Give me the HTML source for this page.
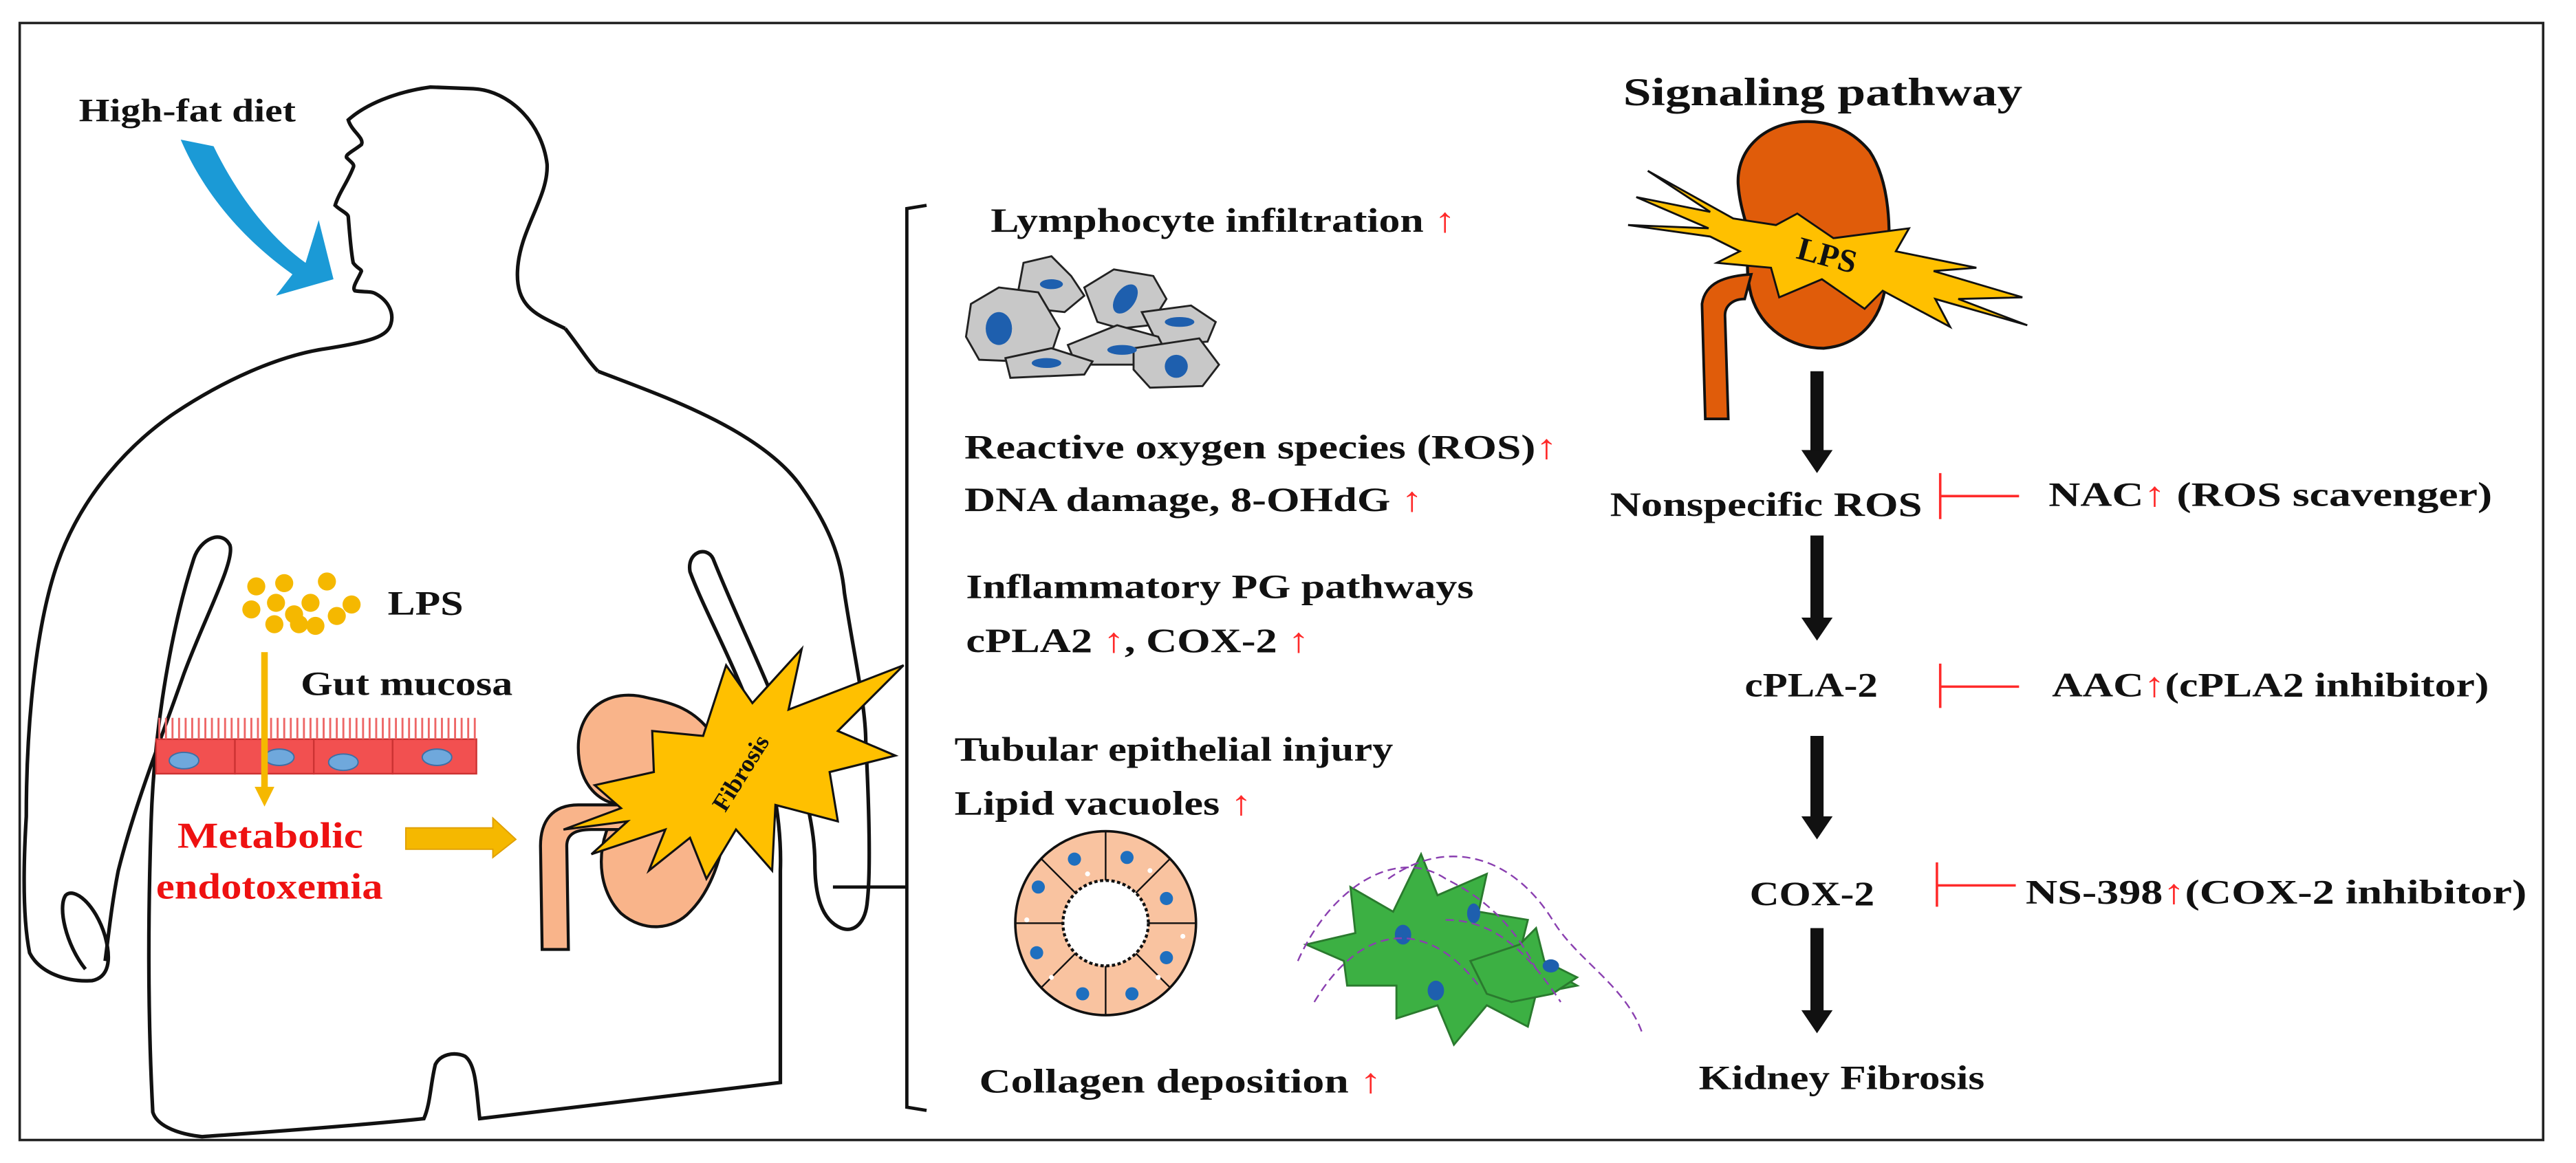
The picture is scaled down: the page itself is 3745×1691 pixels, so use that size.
<!DOCTYPE html>
<html><head><meta charset="utf-8"><style>
html,body{margin:0;padding:0;background:#fff;}
svg{display:block;}
text{font-family:"Liberation Serif",serif;font-weight:bold;fill:#111;}
.r{fill:#ff2a2a;font-weight:normal;}
</style></head><body>
<svg width="3745" height="1691" viewBox="0 0 1568 708" preserveAspectRatio="none" xmlns="http://www.w3.org/2000/svg">
<rect x="0" y="0" width="1568" height="708" fill="#fff"/>
<rect x="12" y="14" width="1536" height="680" fill="none" stroke="#222" stroke-width="1.5"/>

<!-- body outline -->
<g fill="none" stroke="#111" stroke-width="2.2">
<path d="M344,200 C328,192 314,188 315,165 C316,140 334,120 333,100 C330,75 310,55 288,54 L262,53 C240,56 222,64 212,73 C214,80 222,84 220,88 C215,92 210,94 211,96 C214,99 216,100 215,102 C212,110 206,118 204,125 C207,128 212,130 212,132 C213,145 214,155 215,160 C217,163 220,164 220,165 C218,170 214,175 216,177 C222,178 226,177 229,179 C236,183 240,190 238,197 C236,205 225,208 200,212 C170,216 135,232 104,253 C80,270 50,300 35,343 C22,380 16,440 16,497 C14,530 14,560 18,580 C24,592 40,598 56,597 C66,595 68,585 64,570 C58,550 45,540 40,545 C35,552 40,575 52,590"/>
<path d="M364,226 C400,240 460,260 486,294 C505,320 512,340 514,361 C520,400 527,430 527,452 C529,490 530,530 528,548 C527,562 520,568 512,565 C500,560 496,545 496,525 C496,505 490,480 480,450 C468,415 450,380 434,340 C430,332 418,336 420,348 C428,370 445,400 460,440 C470,470 476,500 475,530 L475,659 L292,681 C290,665 290,648 283,643 C276,640 268,642 265,648 C262,660 262,672 258,681 C210,686 150,690 123,692 C105,690 95,684 93,677 C90,620 90,560 92,500 C94,440 105,380 118,340 C122,328 135,322 140,332 C143,342 125,375 112,410 C98,450 82,490 72,530 C68,550 66,570 64,585"/>
<path d="M344,200 C352,210 358,220 364,226"/>
</g>

<text x="48" y="74" font-size="20" textLength="132" lengthAdjust="spacingAndGlyphs">High-fat diet</text>
<!-- blue arrow -->
<path d="M110,85 L130,89 C145,120 165,145 186,160 L194,134 L203,170 L168,180 L178,167 C150,147 125,120 110,85 Z" fill="#1b9ad6"/>

<!-- LPS dots -->
<g fill="#f5b800">
<circle cx="156" cy="357" r="5.5"/><circle cx="173" cy="355" r="5.5"/><circle cx="199" cy="354" r="5.5"/>
<circle cx="168" cy="367" r="5.5"/><circle cx="189" cy="367" r="5.5"/><circle cx="214" cy="368" r="5.5"/>
<circle cx="153" cy="371" r="5.5"/><circle cx="179" cy="374" r="5.5"/><circle cx="205" cy="375" r="5.5"/>
<circle cx="167" cy="380" r="5.5"/><circle cx="182" cy="380" r="5.5"/><circle cx="192" cy="381" r="5.5"/>
</g>
<text x="236" y="374" font-size="21" textLength="46" lengthAdjust="spacingAndGlyphs">LPS</text>
<text x="183" y="423" font-size="21" textLength="129" lengthAdjust="spacingAndGlyphs">Gut  mucosa</text>
<!-- mucosa cells -->
<g stroke="#c33" stroke-width="1">
<rect x="95" y="450" width="48" height="21" fill="#f25050"/><rect x="143" y="450" width="48" height="21" fill="#f25050"/><rect x="191" y="450" width="48" height="21" fill="#f25050"/><rect x="239" y="450" width="51" height="21" fill="#f25050"/>
</g>
<g stroke="#e66" stroke-width="1.2">
<path d="M97,437 V450 M101,437 V450 M105,437 V450 M109,437 V450 M113,437 V450 M117,437 V450 M121,437 V450 M125,437 V450 M129,437 V450 M133,437 V450 M137,437 V450 M141,437 V450 M145,437 V450 M149,437 V450 M153,437 V450 M157,437 V450 M165,437 V450 M169,437 V450 M173,437 V450 M177,437 V450 M181,437 V450 M185,437 V450 M189,437 V450 M193,437 V450 M197,437 V450 M201,437 V450 M205,437 V450 M209,437 V450 M213,437 V450 M217,437 V450 M221,437 V450 M225,437 V450 M229,437 V450 M233,437 V450 M237,437 V450 M241,437 V450 M245,437 V450 M249,437 V450 M253,437 V450 M257,437 V450 M261,437 V450 M265,437 V450 M269,437 V450 M273,437 V450 M277,437 V450 M281,437 V450 M285,437 V450 M289,437 V450"/>
</g>
<g fill="#6fa8dc" stroke="#3d6fa5" stroke-width="0.8">
<ellipse cx="112" cy="463" rx="9" ry="5"/><ellipse cx="170" cy="461" rx="9" ry="5"/><ellipse cx="209" cy="464" rx="9" ry="5"/><ellipse cx="266" cy="461" rx="9" ry="5"/></g>
<!-- orange vertical arrow -->
<rect x="159" y="397" width="4" height="84" fill="#f5b800"/>
<path d="M155,479 L167,479 L161,491 Z" fill="#f5b800"/>
<text x="108" y="516" font-size="22" textLength="113" lengthAdjust="spacingAndGlyphs" style="fill:#ee1111">Metabolic</text>
<text x="95" y="547" font-size="22" textLength="138" lengthAdjust="spacingAndGlyphs" style="fill:#ee1111">endotoxemia</text>
<!-- orange right arrow -->
<path d="M247,504 L300,504 L300,498 L314,511 L300,522 L300,517 L247,517 Z" fill="#f5b800" stroke="#e0a000" stroke-width="0.8"/>

<!-- left kidney -->
<path d="M395,425 C370,418 352,432 352,455 C352,475 362,488 378,490 C362,510 362,540 378,556 C392,568 410,566 420,555 C445,530 450,470 432,445 C422,432 410,428 395,425 Z" fill="#f9b48a" stroke="#111" stroke-width="1.8"/>
<path d="M385,490 L352,490 C336,490 329,500 329,515 L330,578 L346,578 L345,515 C345,508 350,505 360,505 L385,505 Z" fill="#f9b48a" stroke="#111" stroke-width="1.8"/>
<!-- fibrosis star -->
<path d="M343,505 L378,492 L362,478 L398,470 L397,445 L428,448 L442,405 L458,428 L488,395 L480,432 L550,405 L510,445 L545,460 L505,470 L510,500 L472,490 L470,530 L448,505 L430,535 L420,510 L395,530 L405,505 L360,520 L382,500 Z" fill="#ffc000" stroke="#111" stroke-width="1.3"/>
<text x="450" y="476" font-size="15" transform="rotate(-58 450 470)" text-anchor="middle">Fibrosis</text>

<!-- bracket -->
<path d="M564,125 L552,127 L552,674 L564,676 M552,540 L507,540" fill="none" stroke="#111" stroke-width="2"/>

<text x="603" y="141" font-size="21" textLength="283" lengthAdjust="spacingAndGlyphs">Lymphocyte  infiltration  <tspan class="r">↑</tspan></text>
<!-- lymphocyte cells -->
<g stroke="#222" stroke-width="1.2" fill="#c8c8c8">
<path d="M623,160 L640,156 L652,168 L660,180 L648,190 L630,188 L620,176 Z"/>
<path d="M591,185 L608,175 L632,178 L645,200 L640,215 L620,220 L596,219 L588,205 Z"/>
<path d="M660,175 L678,164 L702,168 L710,182 L700,198 L682,200 L668,196 Z"/>
<path d="M695,190 L725,186 L740,196 L735,208 L705,210 Z"/>
<path d="M650,210 L680,198 L705,205 L710,215 L690,222 L655,222 Z"/>
<path d="M612,218 L640,212 L665,220 L660,228 L615,230 Z"/>
<path d="M690,212 L730,206 L742,222 L732,235 L700,236 L690,225 Z"/>
</g>
<g fill="#1e5fae"><ellipse cx="608" cy="200" rx="8" ry="10"/><ellipse cx="685" cy="182" rx="6" ry="10" transform="rotate(35 685 182)"/><ellipse cx="640" cy="173" rx="7" ry="3"/><ellipse cx="718" cy="196" rx="9" ry="3"/><ellipse cx="683" cy="213" rx="9" ry="3"/><ellipse cx="637" cy="221" rx="9" ry="3"/><ellipse cx="716" cy="223" rx="7" ry="7"/></g>

<text x="587" y="279" font-size="21" textLength="361" lengthAdjust="spacingAndGlyphs">Reactive oxygen species (ROS)<tspan class="r">↑</tspan></text>
<text x="587" y="311" font-size="21" textLength="279" lengthAdjust="spacingAndGlyphs">DNA damage, 8-OHdG <tspan class="r">↑</tspan></text>
<text x="588" y="364" font-size="21" textLength="309" lengthAdjust="spacingAndGlyphs">Inflammatory  PG pathways</text>
<text x="588" y="397" font-size="21" textLength="209" lengthAdjust="spacingAndGlyphs">cPLA2 <tspan class="r">↑</tspan>, COX-2 <tspan class="r">↑</tspan></text>
<text x="581" y="463" font-size="21" textLength="267" lengthAdjust="spacingAndGlyphs">Tubular  epithelial  injury</text>
<text x="581" y="496" font-size="21" textLength="181" lengthAdjust="spacingAndGlyphs">Lipid  vacuoles <tspan class="r">↑</tspan></text>

<!-- tubule -->
<ellipse cx="673" cy="562" rx="55" ry="56" fill="#f9c3a0" stroke="#111" stroke-width="1.5"/>
<path d="M673,506 V618 M618,562 H728 M634,523 L712,601 M712,523 L634,601" stroke="#111" stroke-width="1"/>
<circle cx="673" cy="562" r="26" fill="#fff" stroke="#111" stroke-width="1.8" stroke-dasharray="2 1.5"/>
<g fill="#1e6fbf"><circle cx="654" cy="523" r="4"/><circle cx="686" cy="522" r="4"/><circle cx="710" cy="547" r="4"/><circle cx="632" cy="540" r="4"/><circle cx="631" cy="580" r="4"/><circle cx="710" cy="583" r="4"/><circle cx="659" cy="605" r="4"/><circle cx="689" cy="605" r="4"/></g>
<g fill="#fff"><circle cx="662" cy="532" r="1.5"/><circle cx="700" cy="530" r="1.5"/><circle cx="640" cy="595" r="1.5"/><circle cx="705" cy="595" r="1.5"/><circle cx="720" cy="570" r="1.5"/><circle cx="625" cy="560" r="1.5"/></g>

<!-- green cells -->
<path d="M795,575 L825,568 L822,540 L848,555 L865,520 L875,545 L905,532 L900,555 L930,560 L925,580 L960,600 L935,605 L930,625 L905,612 L885,636 L875,612 L850,620 L850,600 L820,600 L818,585 Z" fill="#3cb043" stroke="#2a7a2e" stroke-width="1.2"/>
<path d="M895,585 L925,575 L935,565 L940,585 L960,595 L945,605 L920,610 L905,605 Z" fill="#3cb043" stroke="#2a7a2e" stroke-width="1.2"/>
<g fill="#1e5fae"><ellipse cx="854" cy="569" rx="5" ry="6"/><ellipse cx="897" cy="556" rx="4" ry="6"/><ellipse cx="874" cy="603" rx="5" ry="6"/><ellipse cx="944" cy="588" rx="5" ry="4"/></g>
<path d="M790,585 C810,540 850,515 880,535 C900,545 920,560 935,590 M845,535 C880,510 920,520 945,560 C960,585 990,600 1000,630 M800,610 C830,560 870,560 900,600 M880,560 C910,560 930,580 950,610" fill="none" stroke="#8a3fb0" stroke-width="1" stroke-dasharray="5 3"/>

<text x="596" y="665" font-size="21" textLength="245" lengthAdjust="spacingAndGlyphs">Collagen  deposition <tspan class="r">↑</tspan></text>

<!-- signaling -->
<text x="988" y="64" font-size="24" textLength="243" lengthAdjust="spacingAndGlyphs">Signaling pathway</text>
<path d="M1100,74 C1075,74 1057,90 1058,112 C1059,128 1065,140 1066,150 C1062,160 1064,172 1066,180 C1072,200 1090,212 1110,212 C1135,210 1147,190 1148,170 C1152,140 1150,110 1138,92 C1128,80 1115,74 1100,74 Z" fill="#e05c0a" stroke="#111" stroke-width="1.8"/>
<path d="M1066,167 C1050,168 1038,172 1036,185 L1038,255 L1052,255 L1050,192 C1050,186 1055,182 1062,182 Z" fill="#e05c0a" stroke="#111" stroke-width="1.6"/>
<path d="M1003,104 L1041,129 L996,120 L1040,139 L991,137 L1041,144 L1059,153 L1045,160 L1078,163 L1083,181 L1109,170 L1135,188 L1146,177 L1187,199 L1178,182 L1234,198 L1192,182 L1231,181 L1177,165 L1203,163 L1154,153 L1162,139 L1116,145 L1094,130 L1081,137 L1055,133 Z" fill="#ffc000" stroke="#111" stroke-width="1.2"/>
<text x="1112" y="162" font-size="20" transform="rotate(15 1112 156)" text-anchor="middle">LPS</text>

<g fill="#111">
<rect x="1102" y="226" width="8" height="50"/><path d="M1096.5,274 L1115.5,274 L1106,288 Z"/>
<rect x="1102" y="326" width="8" height="51"/><path d="M1096.5,376 L1115.5,376 L1106,390 Z"/>
<rect x="1102" y="448" width="8" height="50"/><path d="M1096.5,497 L1115.5,497 L1106,511 Z"/>
<rect x="1102" y="565" width="8" height="51"/><path d="M1096.5,615 L1115.5,615 L1106,629 Z"/>
</g>

<text x="980" y="314" font-size="21" textLength="190" lengthAdjust="spacingAndGlyphs">Nonspecific ROS</text>
<path d="M1181,288 V316 M1181,302 H1229" stroke="#ff2a2a" stroke-width="1.5"/>
<text x="1247" y="308" font-size="21" textLength="270" lengthAdjust="spacingAndGlyphs">NAC<tspan class="r">↑</tspan> (ROS  scavenger)</text>
<text x="1062" y="424" font-size="21" textLength="81" lengthAdjust="spacingAndGlyphs">cPLA-2</text>
<path d="M1181,404 V431 M1181,418 H1229" stroke="#ff2a2a" stroke-width="1.5"/>
<text x="1249" y="424" font-size="21" textLength="266" lengthAdjust="spacingAndGlyphs">AAC<tspan class="r">↑</tspan>(cPLA2  inhibitor)</text>
<text x="1065" y="551" font-size="21" textLength="76" lengthAdjust="spacingAndGlyphs">COX-2</text>
<path d="M1179,525 V552 M1179,539 H1227" stroke="#ff2a2a" stroke-width="1.5"/>
<text x="1233" y="550" font-size="21" textLength="305" lengthAdjust="spacingAndGlyphs">NS-398<tspan class="r">↑</tspan>(COX-2 inhibitor)</text>
<text x="1034" y="663" font-size="21" textLength="174" lengthAdjust="spacingAndGlyphs">Kidney  Fibrosis</text>
</svg>
</body></html>
